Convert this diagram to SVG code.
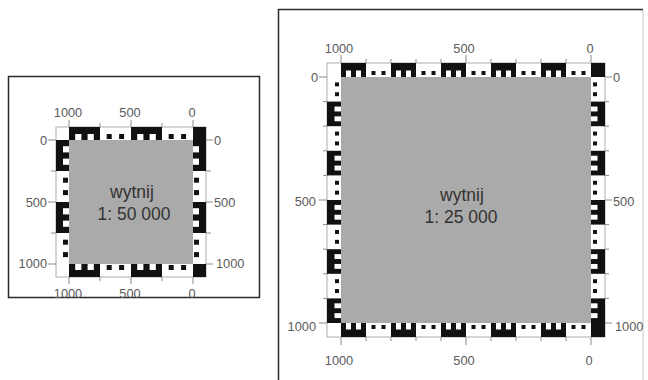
<svg xmlns="http://www.w3.org/2000/svg" width="648" height="380" viewBox="0 0 648 380">
<style>
.frame{fill:#fff;stroke:#2a2a2a;stroke-width:1.5}
.strip{fill:#fff;stroke:#9a9a9a;stroke-width:0.8}
.map{fill:#aaaaaa}
.blk{fill:#111}
.wht{fill:#fff}
.tick{fill:none;stroke:#8c8c8c;stroke-width:1}
.lab{font-family:"Liberation Sans",Arial,sans-serif;font-size:12.8px;fill:#5a5a5a}
.mid{font-family:"Liberation Sans",Arial,sans-serif;font-size:17.5px;fill:#333;text-anchor:middle}
.c{text-anchor:middle}
.e{text-anchor:end}
</style>
<defs>
<g id="lu">
<rect class="blk" x="0" y="0" width="31" height="13"/>
<rect class="wht" x="6.2" y="7" width="6.2" height="6"/>
<rect class="wht" x="18.6" y="7" width="6.2" height="6"/>
<rect class="blk" x="37.7" y="7" width="5" height="5"/>
<rect class="blk" x="50.1" y="7" width="5" height="5"/>
</g>
<g id="rbw">
<rect class="blk" x="0" y="0" width="25" height="14"/>
<rect class="wht" x="5" y="7.5" width="5" height="6.5"/>
<rect class="wht" x="15" y="7.5" width="5" height="6.5"/>
<rect class="blk" x="30.5" y="8" width="4" height="4"/>
<rect class="blk" x="40.5" y="8" width="4" height="4"/>
</g>
<g id="rwb">
<rect class="blk" x="5.5" y="8" width="4" height="4"/>
<rect class="blk" x="15.5" y="8" width="4" height="4"/>
<rect class="blk" x="25" y="0" width="25" height="14"/>
<rect class="wht" x="30" y="7.5" width="5" height="6.5"/>
<rect class="wht" x="40" y="7.5" width="5" height="6.5"/>
</g>
</defs>

<g id="map-50000">
<rect class="frame" x="8.5" y="76.5" width="251" height="221"/>
<rect class="strip" x="56" y="127" width="150" height="150"/>
<rect class="map" x="69" y="140" width="124" height="124"/>
<g id="scale-50000">
<use href="#lu" transform="translate(69,127)"/>
<use href="#lu" transform="translate(131,127)"/>
<use href="#lu" transform="matrix(1,0,0,-1,69,277)"/>
<use href="#lu" transform="matrix(1,0,0,-1,131,277)"/>
<use href="#lu" transform="matrix(0,1,1,0,56,140)"/>
<use href="#lu" transform="matrix(0,1,1,0,56,202)"/>
<use href="#lu" transform="matrix(0,1,-1,0,206,140)"/>
<use href="#lu" transform="matrix(0,1,-1,0,206,202)"/>
<rect class="blk" x="193" y="127" width="13" height="13"/>
<rect class="blk" x="193" y="264" width="13" height="13"/>
</g>
<path class="tick" d="M69 120V127M131 120V127M193 120V127M100 123V127M162 123V127M48 140H56M48 202H56M48 264H56M51 171H56M51 233H56M206 140H213M206 202H213M206 264H213M206 171H211M206 233H211M69 277V284M131 277V284M193 277V284M100 277V281M162 277V281"/>
<g id="labels-50000" class="lab">
<text class="c" x="68" y="117">1000</text>
<text class="c" x="130" y="117">500</text>
<text class="c" x="192" y="117">0</text>
<text class="e" x="47" y="144.5">0</text>
<text class="e" x="47" y="207">500</text>
<text class="e" x="47" y="268">1000</text>
<text x="214" y="144.5">0</text>
<text x="214" y="207">500</text>
<text x="216" y="268">1000</text>
<text class="c" x="68" y="298">1000</text>
<text class="c" x="130" y="298">500</text>
<text class="c" x="192" y="298">0</text>
</g>
<text class="mid" x="132" y="198">wytnij</text>
<text class="mid" x="134" y="220">1: 50 000</text>
</g>

<g id="map-25000">
<rect x="279" y="10" width="364" height="380" fill="#fff"/>
<path d="M643 10V381" fill="none" stroke="#c8c8c8" stroke-width="1"/>
<path d="M643 9.5H278.5V381" fill="none" stroke="#2a2a2a" stroke-width="1.5"/>
<rect class="strip" x="327" y="63" width="278" height="274"/>
<rect class="map" x="341" y="77" width="250" height="246"/>
<g id="scale-25000">
<use href="#rbw" transform="translate(341,63)"/>
<use href="#rbw" transform="translate(391,63)"/>
<use href="#rbw" transform="translate(441,63)"/>
<use href="#rbw" transform="translate(491,63)"/>
<use href="#rbw" transform="translate(541,63)"/>
<use href="#rbw" transform="matrix(1,0,0,-1,341,337)"/>
<use href="#rbw" transform="matrix(1,0,0,-1,391,337)"/>
<use href="#rbw" transform="matrix(1,0,0,-1,441,337)"/>
<use href="#rbw" transform="matrix(1,0,0,-1,491,337)"/>
<use href="#rbw" transform="matrix(1,0,0,-1,541,337)"/>
<use href="#rwb" transform="matrix(0,0.984,1,0,327,77)"/>
<use href="#rwb" transform="matrix(0,0.984,1,0,327,126.2)"/>
<use href="#rwb" transform="matrix(0,0.984,1,0,327,175.4)"/>
<use href="#rwb" transform="matrix(0,0.984,1,0,327,224.6)"/>
<use href="#rwb" transform="matrix(0,0.984,1,0,327,273.8)"/>
<use href="#rwb" transform="matrix(0,0.984,-1,0,605,77)"/>
<use href="#rwb" transform="matrix(0,0.984,-1,0,605,126.2)"/>
<use href="#rwb" transform="matrix(0,0.984,-1,0,605,175.4)"/>
<use href="#rwb" transform="matrix(0,0.984,-1,0,605,224.6)"/>
<use href="#rwb" transform="matrix(0,0.984,-1,0,605,273.8)"/>
<rect class="blk" x="591" y="63" width="14" height="14"/>
<rect class="blk" x="591" y="323" width="14" height="14"/>
</g>
<path class="tick" d="M341 55V63M466 55V63M591 55V63M366 59V63M391 59V63M416 59V63M441 59V63M491 59V63M516 59V63M541 59V63M566 59V63M319 77H327M319 200H327M319 323H327M323 101.6H327M323 126.2H327M323 150.8H327M323 175.4H327M323 224.6H327M323 249.2H327M323 273.8H327M323 298.4H327M605 77H612M605 200H612M605 323H612M605 101.6H609M605 126.2H609M605 150.8H609M605 175.4H609M605 224.6H609M605 249.2H609M605 273.8H609M605 298.4H609M341 337V345M466 337V345M591 337V345M366 337V341M391 337V341M416 337V341M441 337V341M491 337V341M516 337V341M541 337V341M566 337V341"/>
<g id="labels-25000" class="lab">
<text class="c" x="339" y="53">1000</text>
<text class="c" x="464" y="53">500</text>
<text class="c" x="590" y="53">0</text>
<text class="e" x="318" y="82">0</text>
<text class="e" x="316" y="206">500</text>
<text class="e" x="316" y="331">1000</text>
<text x="613" y="82">0</text>
<text x="613" y="206">500</text>
<text x="615" y="331">1000</text>
<text class="c" x="339" y="365">1000</text>
<text class="c" x="464" y="365">500</text>
<text class="c" x="589" y="365">0</text>
</g>
<text class="mid" x="462" y="201">wytnij</text>
<text class="mid" x="461" y="223">1: 25 000</text>
</g>
</svg>
